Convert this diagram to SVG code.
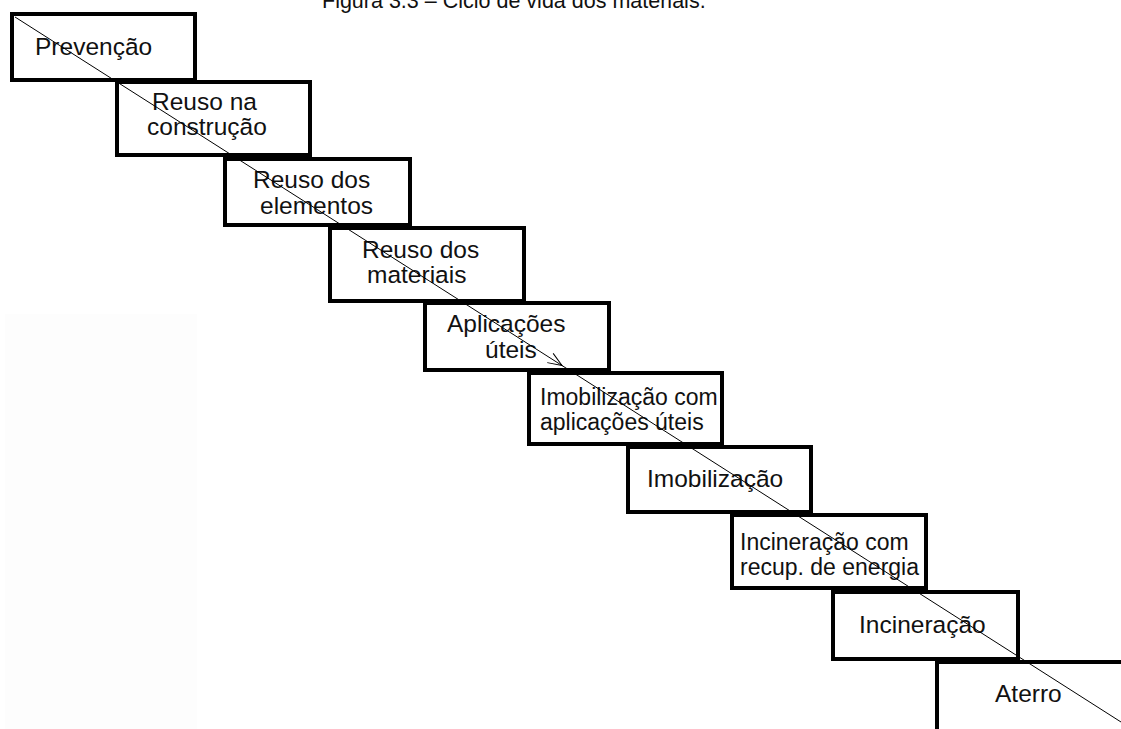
<svg xmlns="http://www.w3.org/2000/svg" width="1121" height="729" viewBox="0 0 1121 729">
<style>
.box{fill:#fff;stroke:#000;stroke-width:4}
.t{font-family:"Liberation Sans",Arial,sans-serif;font-size:24.5px;fill:#111}
.s{font-size:23px}
.cap{font-family:"Liberation Sans",Arial,sans-serif;font-size:21.5px;fill:#111}
.ln{stroke:#000;stroke-width:1;fill:none}
</style>
<defs>
<marker id="arr" markerUnits="userSpaceOnUse" viewBox="-16 -8 17 16" markerWidth="17" markerHeight="16" refX="0" refY="0" orient="auto">
<path d="M-14,-5.5 L0,0 L-14,5.5" fill="none" stroke="#000" stroke-width="1"/>
</marker>
</defs>
<rect x="5" y="314" width="192" height="415" fill="#fdfdfd"/>
<text class="cap" x="322" y="8">Figura 3.3 – Ciclo de vida dos materiais.</text>
<g id="n1"><rect class="box" x="12" y="14" width="183" height="66"/><text class="t" x="35" y="55">Prevenção</text></g>
<g id="n2"><rect class="box" x="117" y="82" width="193" height="73"/><text class="t" x="152" y="110">Reuso na</text><text class="t" x="147" y="135">construção</text></g>
<g id="n3"><rect class="box" x="225" y="159" width="185" height="66"/><text class="t" x="253" y="188">Reuso dos</text><text class="t" x="260" y="214">elementos</text></g>
<g id="n4"><rect class="box" x="330" y="228" width="194" height="73"/><text class="t" x="362" y="258">Reuso dos</text><text class="t" x="367" y="283">materiais</text></g>
<g id="n5"><rect class="box" x="425" y="303" width="184" height="67"/><text class="t" x="447" y="332">Aplicações</text><text class="t" x="485" y="358">úteis</text></g>
<g id="n6"><rect class="box" x="529" y="373" width="193" height="71"/><text class="t s" x="540" y="405">Imobilização com</text><text class="t s" x="540" y="430">aplicações úteis</text></g>
<g id="n7"><rect class="box" x="628" y="447" width="183" height="65"/><text class="t" x="647" y="487">Imobilização</text></g>
<g id="n8"><rect class="box" x="732" y="515" width="194" height="73"/><text class="t s" x="740" y="550">Incineração com</text><text class="t s" x="740" y="575">recup. de energia</text></g>
<g id="n9"><rect class="box" x="833" y="592" width="185" height="67"/><text class="t" x="859" y="633">Incineração</text></g>
<g id="n10"><rect class="box" x="937" y="662" width="200" height="80"/><text class="t" x="995" y="702">Aterro</text></g>
<g id="connectors">
<line class="ln" x1="15" y1="17" x2="562" y2="365.5" marker-end="url(#arr)"/>
<line class="ln" x1="562" y1="365.5" x2="1121" y2="722"/>
</g>
</svg>
